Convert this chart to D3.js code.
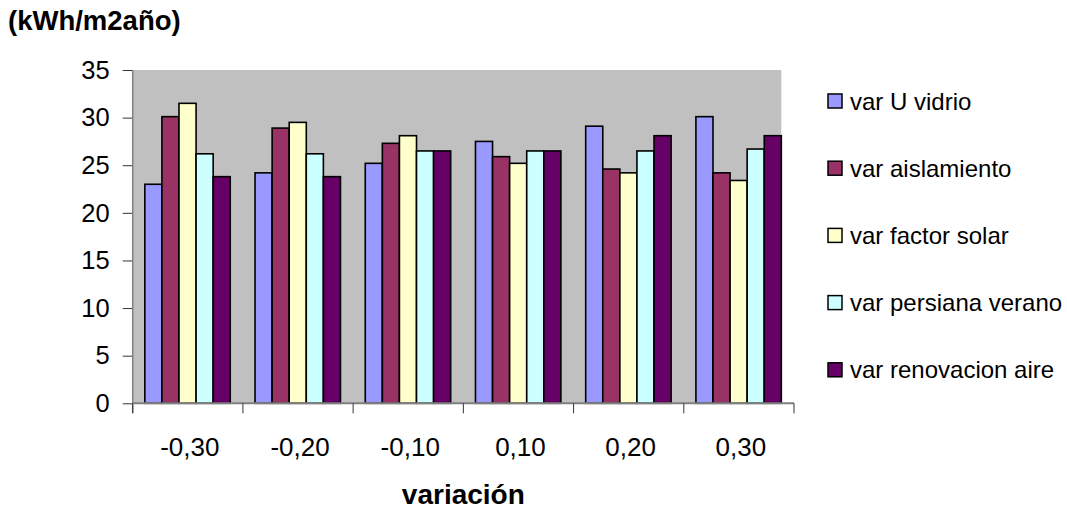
<!DOCTYPE html>
<html>
<head>
<meta charset="utf-8">
<script src="https://cdn.jsdelivr.net/npm/d3@7"></script>
<style>
  body { margin: 0; background: #fff; }
  text { font-family: "Liberation Sans", Arial, sans-serif; fill: #000; }
</style>
</head>
<body>
<div id="chart"></div>
<script>
// categories on the x axis
const categories = ["-0,30", "-0,20", "-0,10", "0,10", "0,20", "0,30"];
// series names (legend)
const series = ["var U vidrio", "var aislamiento", "var factor solar", "var persiana verano", "var renovacion aire"];
const colors = ["#9999FF", "#993366", "#FFFFCC", "#CCFFFF", "#660066"];
// values, one array per series
const uVidrio = [23.0, 24.2, 25.2, 27.5, 29.1, 30.1];
const aislamiento = [30.1, 28.9, 27.3, 25.9, 24.6, 24.2];
const factorSolar = [31.5, 29.5, 28.1, 25.2, 24.2, 23.4];
const persiana = [26.2, 26.2, 26.5, 26.5, 26.5, 26.7];
const renovacion = [23.8, 23.8, 26.5, 26.5, 28.1, 28.1];
const yTicks = [0, 5, 10, 15, 20, 25, 30, 35];

const values = [uVidrio, aislamiento, factorSolar, persiana, renovacion];

const width = 1067, height = 513;
const plotLeft = 132.7, plotRightAxis = 794, plotTop = 70, plotBottom = 403.3;

const svg = d3.select("#chart").append("svg")
  .attr("width", width)
  .attr("height", height);

const x = d3.scaleBand().domain(categories).range([plotLeft, plotRightAxis]).padding(0);
const bw = x.bandwidth();
const xs = d3.scaleBand().domain(series).range([bw * 0.11, bw * 0.885]).padding(0);
const y = d3.scaleLinear().domain([0, 35]).range([plotBottom, plotTop]);

// grey plot area (in the original it stops at the last bar)
const plotRight = x(categories[categories.length - 1]) + xs.range()[1];
svg.append("rect")
  .attr("x", plotLeft).attr("y", plotTop)
  .attr("width", plotRight - plotLeft).attr("height", plotBottom - plotTop)
  .attr("fill", "#C0C0C0");

// bars
const data = [];
categories.forEach((c, i) => {
  series.forEach((s, j) => data.push({ cat: c, ser: s, val: values[j][i], col: colors[j] }));
});

svg.append("g").selectAll("rect")
  .data(data)
  .join("rect")
  .attr("x", d => x(d.cat) + xs(d.ser))
  .attr("y", d => y(d.val))
  .attr("width", xs.bandwidth())
  .attr("height", d => y(0) - y(d.val))
  .attr("fill", d => d.col)
  .attr("stroke", "#000")
  .attr("stroke-width", 1.6);

// y axis
const yAxis = svg.append("g")
  .attr("transform", `translate(${plotLeft},0)`)
  .call(d3.axisLeft(y).tickValues(yTicks).tickSize(10).tickPadding(13).tickFormat(d3.format("d")));
yAxis.select(".domain").remove();
yAxis.selectAll(".tick line").attr("stroke", "#333");
yAxis.selectAll(".tick text")
  .style("font-family", "Liberation Sans, Arial, sans-serif")
  .style("font-size", "25.5px")
  .attr("fill", "#000");
svg.append("line")
  .attr("x1", plotLeft).attr("x2", plotLeft)
  .attr("y1", plotTop).attr("y2", plotBottom + 10)
  .attr("stroke", "#808080").attr("stroke-width", 1.5);

// x axis
svg.append("line")
  .attr("x1", plotLeft).attr("x2", plotRightAxis)
  .attr("y1", plotBottom).attr("y2", plotBottom)
  .attr("stroke", "#808080").attr("stroke-width", 2);
const xTickPos = categories.map(c => x(c)).concat([plotRightAxis]);
svg.append("g").selectAll("line")
  .data(xTickPos)
  .join("line")
  .attr("x1", d => d).attr("x2", d => d)
  .attr("y1", plotBottom).attr("y2", plotBottom + 10)
  .attr("stroke", "#333");
svg.append("g").selectAll("text")
  .data(categories)
  .join("text")
  .attr("x", d => x(d) + bw / 2 + 2)
  .attr("y", 456)
  .attr("text-anchor", "middle")
  .style("font-size", "26px")
  .text(d => d);

// titles
svg.append("text")
  .attr("x", 8).attr("y", 30)
  .style("font-size", "27.5px").style("font-weight", "bold")
  .text("(kWh/m2año)");
svg.append("text")
  .attr("x", (plotLeft + plotRightAxis) / 2).attr("y", 504)
  .attr("text-anchor", "middle")
  .style("font-size", "28px").style("font-weight", "bold")
  .text("variación");

// legend
const legend = svg.append("g").selectAll("g")
  .data(series)
  .join("g")
  .attr("transform", (d, i) => `translate(828,${101 + i * 67.2})`);
legend.append("rect")
  .attr("x", 0).attr("y", -7)
  .attr("width", 14).attr("height", 14)
  .attr("fill", (d, i) => colors[i])
  .attr("stroke", "#000").attr("stroke-width", 1.5);
legend.append("text")
  .attr("x", 22).attr("y", 0)
  .attr("dominant-baseline", "central")
  .style("font-size", "24px")
  .text(d => d);
</script>
</body>
</html>
